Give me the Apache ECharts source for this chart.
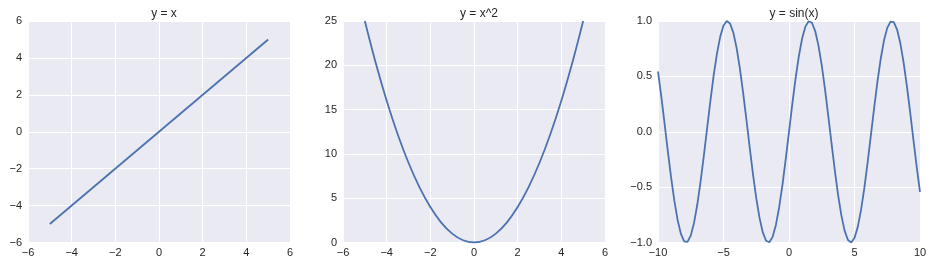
<!DOCTYPE html>
<html>
<head>
<meta charset="utf-8">
<script src="https://cdn.jsdelivr.net/npm/echarts@6/dist/echarts.min.js"></script>
<style>html,body{margin:0;padding:0;background:#fff;}#c{width:932px;height:267px;}</style>
</head>
<body>
<div id="c"></div>
<script>
// Panel titles
const titles = ['y = x', 'y = x^2', 'y = sin(x)'];

// Panel 1: y = x
const linX = [-5, 5];
const linY = [-5, 5];

// Panel 2: y = x^2
const sqX = [-5, -4.5, -4, -3.5, -3, -2.5, -2, -1.5, -1, -0.5, 0, 0.5, 1, 1.5, 2, 2.5, 3, 3.5, 4, 4.5, 5];
const sqY = [25, 20.25, 16, 12.25, 9, 6.25, 4, 2.25, 1, 0.25, 0, 0.25, 1, 2.25, 4, 6.25, 9, 12.25, 16, 20.25, 25];

// Panel 3: y = sin(x)
const sinX = [-10, -9.75, -9.5, -9.25, -9, -8.75, -8.5, -8.25, -8, -7.75, -7.5, -7.25, -7, -6.75, -6.5, -6.25,
  -6, -5.75, -5.5, -5.25, -5, -4.75, -4.5, -4.25, -4, -3.75, -3.5, -3.25, -3, -2.75, -2.5, -2.25,
  -2, -1.75, -1.5, -1.25, -1, -0.75, -0.5, -0.25,
  0, 0.25, 0.5, 0.75, 1, 1.25, 1.5, 1.75, 2, 2.25, 2.5, 2.75, 3, 3.25, 3.5, 3.75,
  4, 4.25, 4.5, 4.75, 5, 5.25, 5.5, 5.75, 6, 6.25, 6.5, 6.75, 7, 7.25, 7.5, 7.75,
  8, 8.25, 8.5, 8.75, 9, 9.25, 9.5, 9.75, 10];
const sinY = [0.544, 0.3195, 0.0752, -0.1743, -0.4121, -0.6247, -0.7985, -0.9228, -0.9894, -0.9946, -0.938, -0.8231,
  -0.657, -0.45, -0.2151, 0.0332, 0.2794, 0.5083, 0.7055, 0.8589, 0.9589, 0.9993, 0.9775, 0.895,
  0.7568, 0.5716, 0.3508, 0.1082, -0.1411, -0.3817, -0.5985, -0.7781, -0.9093, -0.984, -0.9975, -0.949,
  -0.8415, -0.6816, -0.4794, -0.2474,
  0, 0.2474, 0.4794, 0.6816, 0.8415, 0.949, 0.9975, 0.984, 0.9093, 0.7781, 0.5985, 0.3817,
  0.1411, -0.1082, -0.3508, -0.5716, -0.7568, -0.895, -0.9775, -0.9993, -0.9589, -0.8589, -0.7055, -0.5083,
  -0.2794, -0.0332, 0.2151, 0.45, 0.657, 0.8231, 0.938, 0.9946, 0.9894, 0.9228, 0.7985, 0.6247,
  0.4121, 0.1743, -0.0752, -0.3195, -0.544];

// Axis ranges / tick steps
const xRanges = [[-6, 6, 2], [-6, 6, 2], [-10, 10, 5]];
const yRanges = [[-6, 6, 2], [0, 25, 5], [-1, 1, 0.5]];
const yDecimals = [0, 0, 1];

const pairs = (xs, ys) => xs.map((x, i) => [x, ys[i]]);
const datasets = [pairs(linX, linY), pairs(sqX, sqY), pairs(sinX, sinY)];

const lefts = [28, 343, 658];
const gw = 262;
const minus = s => String(s).replace('-', '\u2212');
const font = 'Liberation Sans, Arial, sans-serif';

const option = {
  animation: false,
  backgroundColor: '#ffffff',
  title: titles.map((t, i) => ({
    text: t,
    left: lefts[i] + gw / 2,
    top: 3,
    textAlign: 'center',
    textStyle: {fontSize: 12, fontWeight: 'normal', color: '#262626', fontFamily: font}
  })),
  grid: lefts.map(l => ({left: l, width: gw, top: 21, bottom: 24.5, backgroundColor: '#EAEAF2', show: true, borderWidth: 0})),
  xAxis: xRanges.map((r, i) => ({
    type: 'value', gridIndex: i, min: r[0], max: r[1], interval: r[2],
    axisLine: {show: false}, axisTick: {show: false},
    splitLine: {show: true, lineStyle: {color: '#ffffff', width: 1}},
    axisLabel: {color: '#262626', fontSize: 11, fontFamily: font, margin: 5, formatter: v => minus(v)}
  })),
  yAxis: yRanges.map((r, i) => ({
    type: 'value', gridIndex: i, min: r[0], max: r[1], interval: r[2],
    axisLine: {show: false}, axisTick: {show: false},
    splitLine: {show: true, lineStyle: {color: '#ffffff', width: 1}},
    axisLabel: {color: '#262626', fontSize: 11, fontFamily: font, margin: 6,
      formatter: v => minus(v.toFixed(yDecimals[i]))}
  })),
  series: datasets.map((d, i) => ({
    type: 'line', xAxisIndex: i, yAxisIndex: i, data: d,
    smooth: i === 1 ? 0.3 : false, showSymbol: false, symbol: 'none',
    lineStyle: {color: '#4C72B0', width: 1.8},
    clip: true
  }))
};

const chart = echarts.init(document.getElementById('c'), null, {renderer: 'canvas'});
chart.setOption(option);
</script>
</body>
</html>
